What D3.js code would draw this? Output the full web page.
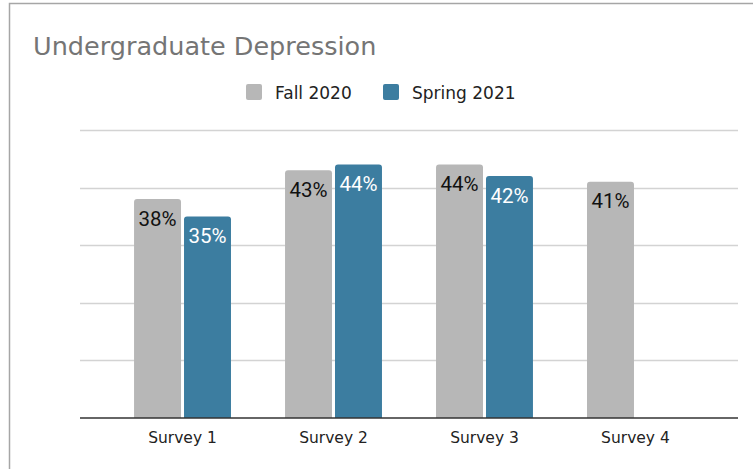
<!DOCTYPE html>
<html>
<head>
<meta charset="utf-8">
<script src="https://cdn.jsdelivr.net/npm/d3@7"></script>
<style>
  body { margin: 0; background: #fff; }
  svg { display: block; }
</style>
</head>
<body>
<div id="chart"></div>
<script>

// chart data
let surveys = ["Survey 1", "Survey 2", "Survey 3", "Survey 4"];
let seriesNames = ["Fall 2020", "Spring 2021"];
let fall2020 = [38, 43, 44, 41];
let spring2021 = [35, 44, 42, null];
let yTicks = [0, 10, 20, 30, 40, 50];

let colors = {"Fall 2020": "#b7b7b7", "Spring 2021": "#3c7da0"};
let labelColors = {"Fall 2020": "#111", "Spring 2021": "#fff"};

let width = 753, height = 469;
let margin = {top: 130, right: 15, bottom: 51, left: 80};

let svg = d3.select("#chart").append("svg")
            .attr("width", width)
            .attr("height", height);

// outer frame (only top and left edges are visible)
svg.append("rect")
   .attr("x", 9.5)
   .attr("y", 3.5)
   .attr("width", width + 20)
   .attr("height", height + 20)
   .attr("fill", "none")
   .attr("stroke", "#a6a6a6")
   .attr("stroke-width", 1.5);

svg.append("text")
   .attr("x", 33)
   .attr("y", 55)
   .attr("font-family", "DejaVu Sans")
   .attr("font-size", 25.5)
   .attr("fill", "#757575")
   .text("Undergraduate Depression");

let x0 = d3.scaleBand()
           .domain(surveys)
           .range([margin.left, width - margin.right])
           .padding(0.358);

let x1 = d3.scaleBand()
           .domain(seriesNames)
           .range([0, x0.bandwidth()])
           .paddingInner(0.06);

let y = d3.scaleLinear()
          .domain([0, 50])
          .range([height - margin.bottom, margin.top]);

// gridlines
svg.append("g")
   .selectAll("line")
   .data(yTicks.slice(1))
   .enter()
   .append("line")
   .attr("x1", margin.left)
   .attr("x2", width - margin.right)
   .attr("y1", d => Math.round(y(d)) + 0.5)
   .attr("y2", d => Math.round(y(d)) + 0.5)
   .attr("stroke", "#d3d3d3")
   .attr("stroke-width", 1.3);

let rows = surveys.map((s, i) => ({
    survey: s,
    values: [
        {name: "Fall 2020", val: fall2020[i]},
        {name: "Spring 2021", val: spring2021[i]}
    ].filter(d => d.val != null)
}));

// bar with rounded top corners
function barPath(x, top, w, bottom, r) {
    return "M" + x + "," + bottom +
           "V" + (top + r) +
           "Q" + x + "," + top + " " + (x + r) + "," + top +
           "H" + (x + w - r) +
           "Q" + (x + w) + "," + top + " " + (x + w) + "," + (top + r) +
           "V" + bottom + "Z";
}

let groups = svg.selectAll(".group")
                .data(rows)
                .enter()
                .append("g")
                .attr("class", "group")
                .attr("transform", d => "translate(" + x0(d.survey) + ",0)");

let bars = groups.selectAll(".bar")
                 .data(d => d.values)
                 .enter()
                 .append("g")
                 .attr("class", "bar");

bars.append("path")
    .attr("d", d => barPath(x1(d.name), y(d.val), x1.bandwidth(), y(0), 3))
    .attr("fill", d => colors[d.name]);

bars.append("text")
    .attr("x", d => x1(d.name) + x1.bandwidth() / 2)
    .attr("y", d => y(d.val) + 26.5)
    .attr("text-anchor", "middle")
    .attr("font-family", "Roboto")
    .attr("font-size", 20.5)
    .attr("fill", d => labelColors[d.name])
    .text(d => d.val + "%");

// baseline
svg.append("line")
   .attr("x1", margin.left)
   .attr("x2", width - margin.right)
   .attr("y1", y(0))
   .attr("y2", y(0))
   .attr("stroke", "#333")
   .attr("stroke-width", 1.5);

// category labels
let xAxis = svg.append("g")
               .attr("transform", "translate(0," + y(0) + ")")
               .call(d3.axisBottom(x0).tickSize(0).tickPadding(14));

xAxis.select(".domain").remove();
xAxis.selectAll("text")
     .attr("font-family", "DejaVu Sans")
     .attr("font-size", 15.5)
     .attr("fill", "#222");

// legend
let legendX = [246, 383];
let legend = svg.selectAll(".legend")
                .data(seriesNames)
                .enter()
                .append("g")
                .attr("class", "legend")
                .attr("transform", (d, i) => "translate(" + legendX[i] + ",84)");

legend.append("rect")
      .attr("width", 16)
      .attr("height", 16)
      .attr("rx", 2)
      .attr("fill", d => colors[d]);

legend.append("text")
      .attr("x", 29)
      .attr("y", 15)
      .attr("font-family", "DejaVu Sans")
      .attr("font-size", 17)
      .attr("fill", "#222")
      .text(d => d);

</script>
</body>
</html>
